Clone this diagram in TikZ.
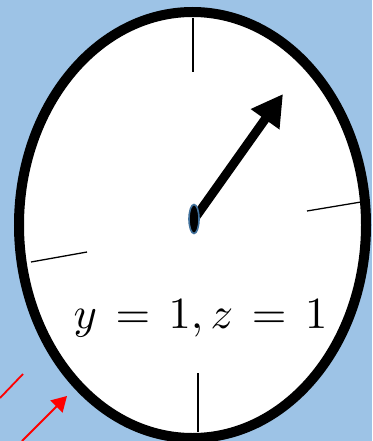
\documentclass[tikz,border=0pt]{standalone}
\usetikzlibrary{arrows.meta}
\definecolor{bgblue}{HTML}{9DC3E6}
\definecolor{pinblue}{HTML}{41719C}
\tikzset{
  tick/.style={draw=black, line width=1.3pt},
  redline/.style={draw=red, line width=1.8pt},
}
\begin{document}
\begin{tikzpicture}[x=1pt,y=-1pt]
\useasboundingbox (0,0) rectangle (372,441);
\fill[bgblue] (0,0) rectangle (372,441);
\begin{scope}
\clip (0,0) rectangle (372,441);
% clock face
\draw[fill=white, line width=10pt] (192.5,225) ellipse [x radius=173.5, y radius=213];
\end{scope}
% ticks
\draw[tick] (193,18) -- (193,72);
\draw[tick] (198,373) -- (198,432);
\draw[tick] (307,211) -- (361,202);
\draw[tick] (31,262) -- (87,252);
% hand
\coordinate (hstart) at (195,218);
\coordinate (htip) at (283,94);
\draw[line width=9pt, -{Triangle[length=31pt,width=33pt]}] (hstart) -- (htip);
% pivot
\draw[fill=black, draw=pinblue, line width=1.6pt] (194,219) ellipse [x radius=5, y radius=14.5];
% label
\node[anchor=base, inner sep=0pt] (lbl) at (200.5,328) {\scalebox{4.45}{\thickmuskip=7.5mu $y=1,z=1$}};
% red arrows
\coordinate (r1a) at (0,398);
\coordinate (r1b) at (23,374);
\draw[redline] (r1a) -- (r1b);
\coordinate (r2a) at (22,441);
\coordinate (r2b) at (67,396);
\draw[redline, -{Triangle[length=15pt,width=17pt]}] (r2a) -- (r2b);
\end{tikzpicture}
\end{document}
